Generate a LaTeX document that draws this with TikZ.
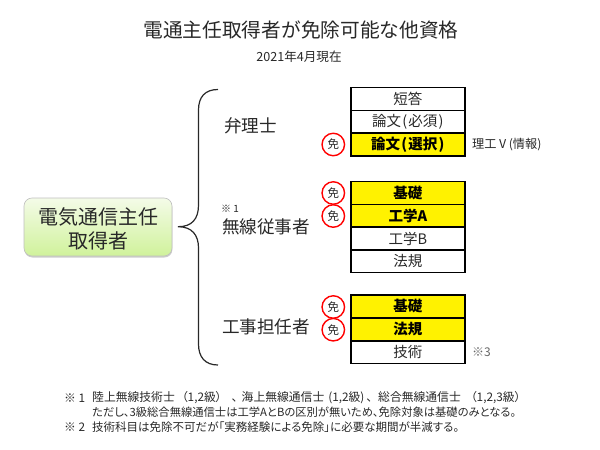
\documentclass[tikz,border=0pt]{standalone}
\usepackage{fontspec}
\setmainfont{Noto Sans CJK JP}
\newfontfamily\notefont[RawFeature=+palt]{Noto Sans CJK JP}
\usetikzlibrary{shadows}
\definecolor{inkgray}{RGB}{40,40,40}
\definecolor{boxtop}{RGB}{244,251,232}
\definecolor{boxbot}{RGB}{208,242,155}
\tikzset{
  cell/.style={draw=black,line width=1.4pt,minimum width=114pt,minimum height=22.7pt,inner sep=0pt,font=\fontsize{14.5}{16}\selectfont,text=inkgray},
  cellon/.style={cell,fill=yellow,text=black,font=\fontsize{14.5}{16}\bfseries\selectfont},
  menbadge/.style={circle,draw=red,line width=1.4pt,fill=white,minimum size=22.5pt,inner sep=0pt,font=\fontsize{11.5}{12}\selectfont,text=inkgray},
  qual/.style={font=\fontsize{17.6}{20}\selectfont,text=inkgray},
  note/.style={anchor=west,inner sep=0pt,font=\notefont\fontsize{11.8}{14}\selectfont,text=inkgray},
}
\newcommand{\wideparen}[1]{\hspace{1.2pt}(\hspace{1.2pt}#1\hspace{1.2pt})\hspace{1.2pt}}
\begin{document}
\begin{tikzpicture}[x=1pt,y=-1pt]
  \useasboundingbox (0,0) rectangle (600,450);

  % Title
  \node[font=\fontsize{19.7}{22}\selectfont,text=inkgray] (title) at (301,30) {電通主任取得者が免除可能な他資格};
  \node[font=\fontsize{12.6}{14}\selectfont,text=inkgray] (date) at (299,57) {2021年4月現在};

  % Root box
  \node[draw=black!25,line width=0.6pt,rounded corners=8pt,minimum width=148pt,minimum height=58pt,
    top color=boxtop,bottom color=boxbot,
    drop shadow={shadow xshift=0.4pt,shadow yshift=-1.5pt,opacity=0.4}] (root) at (98,227) {};
  \node[align=center,font=\fontsize{20}{24}\selectfont,text=inkgray] (rootlabel) at (98,229) {電気通信主任\\取得者};

  % Brace
  \coordinate (bracetop) at (218,89.5);
  \coordinate (bracetip) at (178,226.7);
  \coordinate (bracebot) at (218,365);
  \draw[inkgray,line width=1.2pt] (bracetop) .. controls (205,89.5) and (198.5,97) .. (198.5,110)
    -- (198.5,205) .. controls (198.5,219) and (192,226.7) .. (bracetip)
    .. controls (192,226.7) and (198.5,235) .. (198.5,248)
    -- (198.5,344) .. controls (198.5,357) and (205,365) .. (bracebot);

  % Qualifications
  \node[qual] (benri) at (250.5,125.5) {弁理士};
  \node[qual] (musen) at (266,227) {無線従事者};
  \node[qual] (koji) at (266,327) {工事担任者};
  \node[anchor=west,inner sep=0pt,font=\fontsize{10}{10}\selectfont,text=inkgray] (musennote) at (221,209) {※ 1};

  % Subject cells
  \foreach \cname/\ypos/\cstyle/\ctext in {
    a1/99/cell/短答, a2/121.7/cell/論文\wideparen{必須}, a3/144.8/cellon/論文\wideparen{選択},
    b1/193/cellon/基礎, b2/215.8/cellon/工学A, b3/238.5/cell/工学B, b4/261/cell/法規,
    c1/306.5/cellon/基礎, c2/329.5/cellon/法規, c3/352.3/cell/技術}{
    \node[\cstyle] (\cname) at (407.8,\ypos) {\ctext};
  }

  % Exemption marks
  \foreach \bname/\ypos in {ma/144.5, mb/193, mc/216, md/307, me/329.7}{
    \node[menbadge] (\bname) at (333.3,\ypos) {免};
  }

  % Side remarks
  \node[anchor=west,inner sep=0pt,font=\fontsize{12.2}{14}\selectfont,text=inkgray] (rikou) at (472,144.5) {理工Ⅴ(情報)};
  \node[anchor=west,inner sep=0pt,font=\fontsize{12}{14}\selectfont,text=black!60] (kome3) at (472,352.5) {※3};

  % Footnotes
  \node[note] (n1) at (64,398) {※ 1};
  \node[note] (n1a) at (92,398) {陸上無線技術士\hspace{7pt}（1,2級）\hspace{10pt}、};
  \node[note] (n1d) at (241.5,398) {海上無線通信士\hspace{4pt}(1,2級)\hspace{2pt}、};
  \node[note] (n1e) at (378,398) {総合無線通信士\hspace{10pt}（1,2,3級）};
  \node[note,font=\notefont\fontsize{11.3}{14}\selectfont] (n1b) at (92,412.5) {ただし、3級総合無線通信士は工学AとBの区別が無いため、免除対象は基礎のみとなる。};
  \node[note] (n2) at (64,427) {※ 2};
  \node[note,font=\notefont\fontsize{11.5}{14}\selectfont] (n2a) at (92,427) {技術科目は免除不可だが「実務経験による免除」に必要な期間が半減する。};
\end{tikzpicture}
\end{document}
